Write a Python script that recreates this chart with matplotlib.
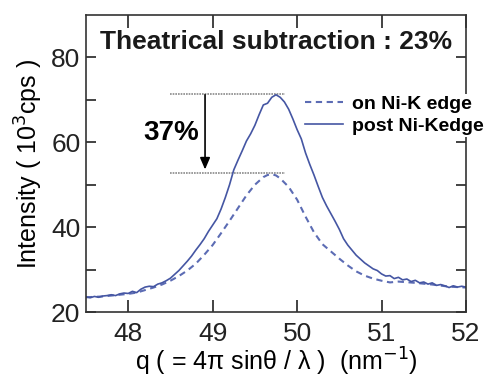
import numpy as np
import matplotlib
matplotlib.use("Agg")
import matplotlib.pyplot as plt

# ---------------- data ----------------
q_post = [47.50, 47.55, 47.60, 47.65, 47.70, 47.75, 47.80, 47.85, 47.90, 47.95,
          48.00, 48.05, 48.10, 48.15, 48.20, 48.25, 48.30, 48.35, 48.40, 48.45,
          48.50, 48.55, 48.60, 48.65, 48.70, 48.75, 48.80, 48.85, 48.90, 48.95,
          49.00, 49.05, 49.10, 49.15, 49.20, 49.25, 49.30, 49.35, 49.40, 49.45,
          49.50, 49.55, 49.60, 49.65, 49.70, 49.75, 49.80, 49.85, 49.90, 49.95,
          50.00, 50.05, 50.10, 50.15, 50.20, 50.25, 50.30, 50.35, 50.40, 50.45,
          50.50, 50.55, 50.60, 50.65, 50.70, 50.75, 50.80, 50.85, 50.90, 50.95,
          51.00, 51.05, 51.10, 51.15, 51.20, 51.25, 51.30, 51.35, 51.40, 51.45,
          51.50, 51.55, 51.60, 51.65, 51.70, 51.75, 51.80, 51.85, 51.90, 51.95,
          52.00]
i_post = [23.6, 23.4, 23.7, 23.5, 23.8, 23.9, 24.1, 23.9, 24.3, 24.5,
          24.4, 24.9, 24.6, 25.4, 25.9, 26.1, 26.0, 26.6, 26.9, 27.4,
          28.0, 28.9, 29.8, 30.9, 32.0, 33.2, 34.6, 35.9, 37.3, 39.0,
          40.5, 42.0, 44.3, 47.0, 50.0, 53.5, 55.8, 58.0, 60.3, 62.0,
          64.0, 66.5, 68.8, 69.2, 70.6, 71.2, 70.6, 69.5, 67.8, 65.5,
          63.0, 60.8, 57.5, 54.8, 52.3, 49.6, 47.0, 45.0, 43.2, 41.4,
          39.5, 37.3, 35.8, 34.6, 33.4, 32.5, 31.6, 30.9, 30.2, 29.8,
          29.0, 28.5, 28.6, 27.9, 28.2, 27.6, 27.8, 27.2, 27.5, 26.9,
          27.1, 26.6, 26.9, 26.3, 26.5, 26.2, 25.8, 26.2, 25.9, 26.1,
          25.9]

q_on = [47.5, 47.6, 47.7, 47.8, 47.9, 48.0, 48.1, 48.2, 48.3, 48.4,
        48.5, 48.6, 48.7, 48.8, 48.9, 49.0, 49.1, 49.2, 49.3, 49.4,
        49.5, 49.6, 49.65, 49.7, 49.75, 49.8, 49.9, 50.0, 50.1, 50.2,
        50.3, 50.4, 50.5, 50.6, 50.7, 50.8, 50.9, 51.0, 51.1, 51.2,
        51.4, 51.6, 51.8, 52.0]
i_on = [23.5, 23.6, 23.7, 23.9, 24.1, 24.3, 24.6, 25.2, 25.8, 26.5,
        27.4, 28.5, 29.8, 31.4, 33.5, 35.8, 38.6, 41.5, 44.5, 47.5,
        50.0, 51.8, 52.3, 52.5, 52.2, 51.5, 49.5, 46.5, 42.5, 38.8,
        36.0, 34.3, 32.6, 31.0, 29.6, 28.6, 27.9, 27.4, 27.0, 27.2,
        26.9, 26.5, 26.0, 25.8]

labels = ["on Ni-K edge", "post Ni-Kedge"]
title_text = "Theatrical subtraction : 23%"
ratio_text = "37%"
peak_post = 71.35
peak_on = 52.7
xticks = [48, 49, 50, 51, 52]
yticks = [20, 30, 40, 50, 60, 70, 80]
ytick_labels = ["20", "", "40", "", "60", "", "80"]

# ---------------- figure ----------------
plt.rcParams['font.family'] = ['Liberation Sans', 'DejaVu Sans']
fig = plt.figure(figsize=(4.93, 3.83), dpi=100)
ax = fig.add_axes([0.1744, 0.185, 0.7708, 0.776])

c_post = "#4556a3"
c_on = "#5c6cb4"
ax.plot(q_on, i_on, linestyle=(0, (3, 2.2)), color=c_on, lw=1.5, label=labels[0])
ax.plot(q_post, i_post, '-', color=c_post, lw=1.2, label=labels[1])

# reference dotted lines
ax.hlines([peak_post, peak_on], 48.5, 49.86, colors="#8a8a8a", linestyles=(0, (1, 0.6)), lw=1.2, zorder=1)
ax.annotate("", xy=(48.91, 53.6), xytext=(48.91, 71.2),
            arrowprops=dict(arrowstyle="-|>,head_length=0.7,head_width=0.3", color="black", lw=1.2,
                            shrinkA=0, shrinkB=0))
ax.text(48.51, 62.3, ratio_text, fontsize=20, fontweight='bold', ha='center', va='center')
ax.text(0.5, 0.91, title_text, transform=ax.transAxes, fontsize=19, fontweight='bold',
        ha='center', va='center', color="#1a1a1a")

ax.set_xlim(47.5, 52)
ax.set_ylim(20, 90)
ax.set_xticks(xticks)
ax.set_yticks(yticks)
ax.set_yticklabels(ytick_labels)
ax.tick_params(direction='in', top=True, right=True, labelsize=19, length=7, width=1.2, pad=4,
               colors="#222222")
ax.tick_params(axis='x', length=9, pad=7)
for s in ax.spines.values():
    s.set_linewidth(1.2)
    s.set_color("#333333")

ax.set_xlabel("q ( = 4\u03c0 sin\u03b8 / \u03bb )  (nm$^{-1}$)", fontsize=18, labelpad=0)
ax.set_ylabel("Intensity ( 10$^{3}$cps )", fontsize=18, labelpad=4)

leg = ax.legend(loc='upper left', bbox_to_anchor=(0.57, 0.735), frameon=True, fancybox=False,
                edgecolor='none', facecolor='white', framealpha=1,
                prop={'weight': 'bold', 'size': 14}, handlelength=2.0, handletextpad=0.45,
                borderpad=0.1, labelspacing=0.2, borderaxespad=0)
leg.set_zorder(5)

fig.savefig("out.png", dpi=100)
